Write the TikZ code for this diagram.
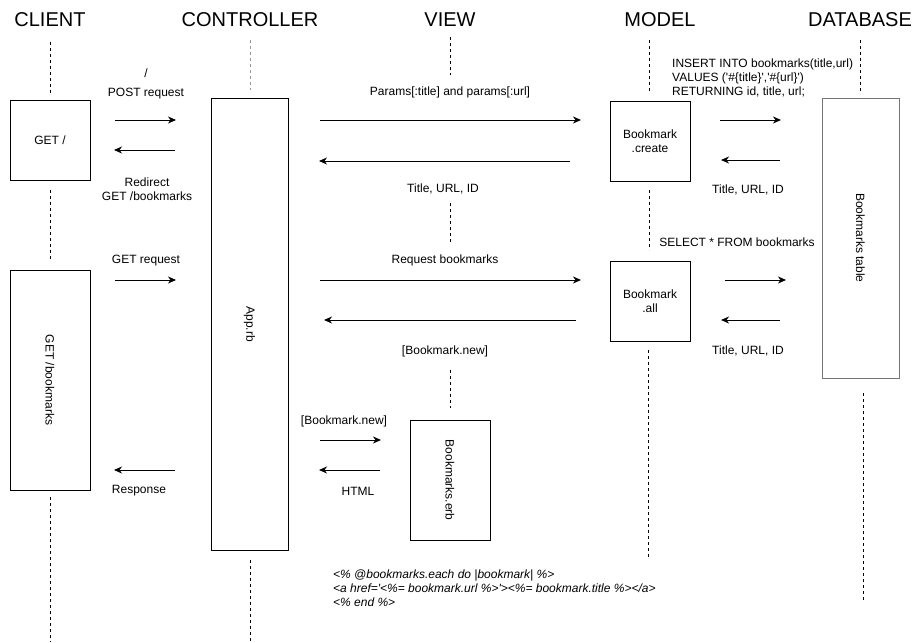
\documentclass[tikz,border=0pt]{standalone}
\usepackage{fontspec}
\setmainfont{Liberation Sans}
\usetikzlibrary{arrows.meta, positioning}
\definecolor{boxgray}{RGB}{118,118,118}
\definecolor{linegray}{RGB}{150,150,150}
\newcommand{\lblfont}{\fontsize{12}{14}\selectfont}
\newcommand{\headfont}{\fontsize{20}{24}\selectfont}
\tikzset{
    head/.style={font=\headfont, inner sep=0pt},
    lbl/.style={font=\lblfont, align=center, inner sep=0pt},
    box/.style={draw, line width=1pt, inner sep=0pt, minimum width=80pt,
        minimum height=80pt, align=center, font=\lblfont},
    msg/.style={-{Stealth[length=8pt, width=7pt, inset=2.5pt]}, line width=1pt},
    life/.style={dash pattern=on 3pt off 3pt, line width=1pt},
}

\begin{document}
\begin{tikzpicture}[x=1pt, y=-1pt]
    \useasboundingbox (0,0) rectangle (912,642);
    %
    \node [head] (client) at (50,20) {CLIENT};
    \node [head] (controller) at (250,20) {CONTROLLER};
    \node [head] (view) at (450,20) {VIEW};
    \node [head] (model) at (660,20) {MODEL};
    \node [head] (database) at (860,20) {DATABASE};
    %
    \node [box] (getroot) at (50,140) {GET /};
    \node [box, minimum height=220pt] (getbm) at (50,380) {};
    \node [lbl, rotate=-90] (getbmlbl) at (getbm) {GET /bookmarks};
    \node [box, minimum width=77pt, minimum height=452pt] (app) at (249.5,324) {};
    \node [lbl, rotate=-90] (applbl) at (app) {App.rb};
    \node [box] (create) at (650,141) {Bookmark\\.create};
    \node [box] (all) at (650,301) {Bookmark\\.all};
    \node [box, draw=boxgray, minimum width=77pt, minimum height=280pt] (table) at (860.5,238) {};
    \node [lbl, rotate=-90] (tablelbl) at (table) {Bookmarks table};
    \node [box, minimum height=120pt] (erb) at (450,480) {};
    \node [lbl, rotate=-90] (erblbl) at (erb) {Bookmarks.erb};
    %
    \coordinate (cl1) at (50,42);   \coordinate (cl2) at (50,93);
    \coordinate (cl3) at (50,190);  \coordinate (cl4) at (50,261);
    \coordinate (cl5) at (50,497);  \coordinate (cl6) at (50,642);
    \coordinate (ct1) at (250,40);  \coordinate (ct2) at (250,90);
    \coordinate (ct3) at (250,560); \coordinate (ct4) at (250,642);
    \coordinate (vw1) at (450,37);  \coordinate (vw2) at (450,75);
    \coordinate (vw3) at (450,203); \coordinate (vw4) at (450,242);
    \coordinate (vw5) at (450,370); \coordinate (vw6) at (450,408);
    \coordinate (md1) at (649,40);  \coordinate (md2) at (649,92);
    \coordinate (md3) at (649,190); \coordinate (md4) at (649,250);
    \coordinate (md5) at (648,350); \coordinate (md6) at (648,558);
    \coordinate (db1) at (860,40);  \coordinate (db2) at (860,92);
    \coordinate (db3) at (863,393); \coordinate (db4) at (863,600);
    %
    \draw [life] (cl1) -- (cl2);
    \draw [life] (cl3) -- (cl4);
    \draw [life] (cl5) -- (cl6);
    \draw [life, draw=linegray] (ct1) -- (ct2);
    \draw [life] (ct3) -- (ct4);
    \draw [life] (vw1) -- (vw2);
    \draw [life] (vw3) -- (vw4);
    \draw [life] (vw5) -- (vw6);
    \draw [life] (md1) -- (md2);
    \draw [life] (md3) -- (md4);
    \draw [life] (md5) -- (md6);
    \draw [life] (db1) -- (db2);
    \draw [life] (db3) -- (db4);
    %
    \coordinate (post1) at (115,120);    \coordinate (post2) at (176,120);
    \coordinate (redir1) at (175,150);   \coordinate (redir2) at (114,150);
    \coordinate (getreq1) at (115,280);  \coordinate (getreq2) at (176,280);
    \coordinate (resp1) at (175,470);    \coordinate (resp2) at (114,470);
    \coordinate (params1) at (320,120);  \coordinate (params2) at (581,120);
    \coordinate (ret1) at (570,161);     \coordinate (ret2) at (319,161);
    \coordinate (reqbm1) at (320,280);   \coordinate (reqbm2) at (581,280);
    \coordinate (new1) at (576,320);     \coordinate (new2) at (324,320);
    \coordinate (ins1) at (720,120);     \coordinate (ins2) at (781,120);
    \coordinate (insret1) at (780,160);  \coordinate (insret2) at (721,160);
    \coordinate (sel1) at (725,280);     \coordinate (sel2) at (786,280);
    \coordinate (selret1) at (780,320);  \coordinate (selret2) at (721,320);
    \coordinate (render1) at (320,440);  \coordinate (render2) at (381,440);
    \coordinate (html1) at (380,470);    \coordinate (html2) at (319,470);
    %
    \draw [msg] (post1) -- (post2);
    \draw [msg] (redir1) -- (redir2);
    \draw [msg] (getreq1) -- (getreq2);
    \draw [msg] (resp1) -- (resp2);
    \draw [msg] (params1) -- (params2);
    \draw [msg] (ret1) -- (ret2);
    \draw [msg] (reqbm1) -- (reqbm2);
    \draw [msg] (new1) -- (new2);
    \draw [msg] (ins1) -- (ins2);
    \draw [msg] (insret1) -- (insret2);
    \draw [msg] (sel1) -- (sel2);
    \draw [msg] (selret1) -- (selret2);
    \draw [msg] (render1) -- (render2);
    \draw [msg] (html1) -- (html2);
    %
    \node [lbl] (postlbl) at (146,84) {/\\[5pt]POST request};
    \node [lbl] (redirlbl) at (147,189.5) {Redirect\\GET /bookmarks};
    \node [lbl] (getreqlbl) at (146,260.5) {GET request};
    \node [lbl] (resplbl) at (139,490.5) {Response};
    \node [lbl] (paramslbl) at (450,92) {Params[:title] and params[:url]};
    \node [lbl] (retlbl) at (443,189) {Title, URL, ID};
    \node [lbl] (reqbmlbl) at (445,260.5) {Request bookmarks};
    \node [lbl] (newlbl) at (445,351) {[Bookmark.new]};
    \node [lbl, align=left, anchor=west] (inslbl) at (672,78)
        {INSERT INTO bookmarks(title,url)\\
         VALUES (\textquotesingle\#\{title\}\textquotesingle,\textquotesingle\#\{url\}\textquotesingle)\\
         RETURNING id, title, url;};
    \node [lbl] (insretlbl) at (748,190) {Title, URL, ID};
    \node [lbl] (sellbl) at (737,242) {SELECT * FROM bookmarks};
    \node [lbl] (selretlbl) at (748,351) {Title, URL, ID};
    \node [lbl] (renderlbl) at (344,421) {[Bookmark.new]};
    \node [lbl] (htmllbl) at (358,491) {HTML};
    \node [lbl, align=left, anchor=west, font=\lblfont\itshape] (codelbl) at (333,588)
        {<\% @bookmarks.each do |bookmark| \%>\\
         <a href=\textquotesingle<\%= bookmark.url \%>\textquotesingle><\%= bookmark.title \%></a>\\
         <\% end \%>};
\end{tikzpicture}
\end{document}
